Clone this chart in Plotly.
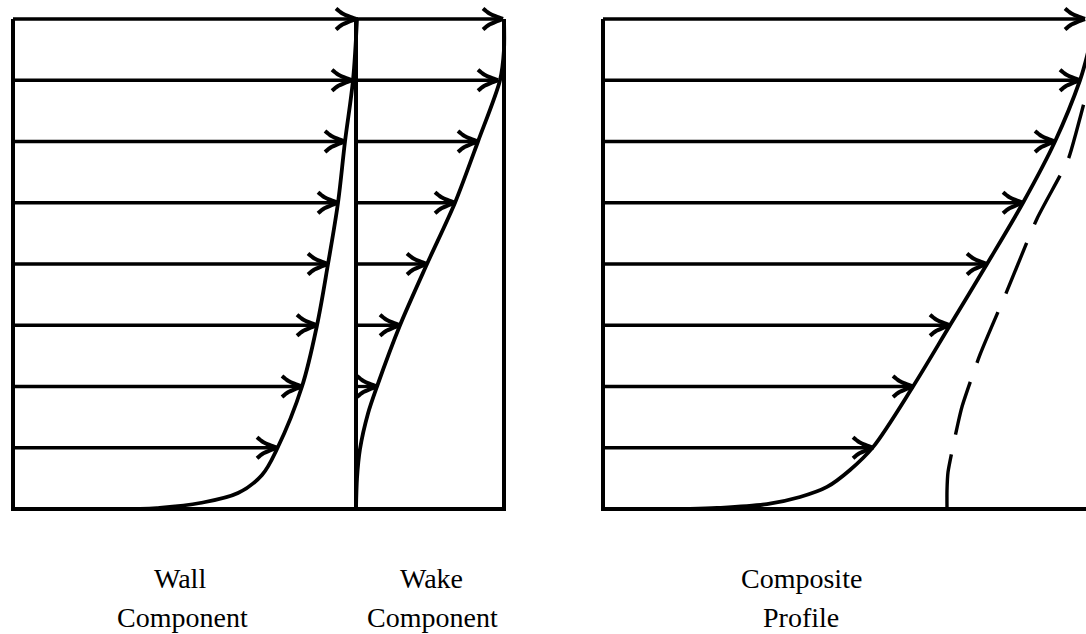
import plotly.graph_objects as go

# ---- data (x in drawing units, heights in profile levels 0..8) ----
levels = [1, 2, 3, 4, 5, 6, 7, 8]
wall_tips = [277, 302, 317, 328, 338, 345, 352, 356]
wake_levels = [2, 3, 4, 5, 6, 7, 8]
wake_tips = [377, 400, 427, 455, 478, 498, 503]
composite_tips = [873, 913, 950, 987, 1023, 1055, 1080, 1085]

wall_curve_level = [0, 0.016, 0.098, 0.26, 0.555, 0.98, 2, 3, 4, 5, 6, 7, 8]
wall_curve_x = [140, 157, 200, 238, 262, 277, 302, 317, 328, 338, 345, 353, 357]
wake_curve_level = [0, 0.5, 0.98, 1.56, 2, 3, 4, 5, 6, 7, 7.5, 8]
wake_curve_x = [356, 357, 360, 368, 377, 400, 427, 455, 478, 500, 504, 504]
comp_curve_level = [0, 0.016, 0.08, 0.196, 0.36, 0.637, 1.01, 2, 3, 4, 5, 6, 7, 7.33, 7.6]
comp_curve_x = [690, 717, 767, 800, 827, 850, 873, 913, 950, 987, 1023, 1055, 1080, 1086, 1090]
dash_level = [0, 0.3, 0.6, 1.4, 1.67, 2.52, 3.56, 4.74, 5.7, 6.14, 6.76, 7.2]
dash_x = [947, 947, 948, 958, 962, 980, 1007, 1037, 1068, 1076, 1086, 1092]

wall_x0, divider_x, wake_x1 = 13, 356, 504
comp_x0, comp_x1 = 603, 1090
top_level = 8

labels = [("Wall", 180, 578), ("Component", 182, 617),
          ("Wake", 431, 578), ("Component", 432, 617),
          ("Composite", 801, 578), ("Profile", 801, 617)]

# ---- geometry helpers ----
PX_PER_LEVEL = 61.25
BASE_PX = 509
W, H = 1086, 634
y_lo = (BASE_PX - H) / PX_PER_LEVEL
y_hi = BASE_PX / PX_PER_LEVEL

BLACK = "#000000"

fig = go.Figure()


def line(xs, ys, width=3.6, dash=None, shape="linear", smoothing=0.8):
    ln = dict(color=BLACK, width=width, dash=dash, shape=shape)
    if shape == "spline":
        ln["smoothing"] = smoothing
    fig.add_trace(go.Scatter(x=xs, y=ys, mode="lines", line=ln,
                             hoverinfo="skip", showlegend=False))


def arrow(x0, x1, lev):
    line([x0, x1], [lev, lev], width=3.3)
    # swept, slightly curved barbs
    offs = [(0, 0), (-7, 2.6), (-14, 5.8), (-20, 10.5)]
    for s in (1, -1):
        bx = [x1 + dx for dx, _ in offs]
        by = [lev + s * dy / PX_PER_LEVEL for _, dy in offs]
        line(bx, by, width=4.0, shape="spline")


# frames
line([wall_x0, wall_x0, wake_x1, wake_x1], [top_level, 0, 0, top_level], width=4)
line([divider_x, divider_x], [0, top_level + 0.03], width=4)
line([comp_x0, comp_x0, comp_x1], [top_level, 0, 0], width=4)

# wall component arrows
for lev, tip in zip(levels, wall_tips):
    arrow(wall_x0, tip, lev)
# wake component arrows
for lev, tip in zip(wake_levels, wake_tips):
    arrow(divider_x, tip, lev)
# composite arrows
for lev, tip in zip(levels, composite_tips):
    arrow(comp_x0, tip, lev)

# profiles
line(wall_curve_x, wall_curve_level, width=3.8, shape="spline", smoothing=1.0)
line(wake_curve_x, wake_curve_level, width=3.8, shape="spline", smoothing=0.8)
line(comp_curve_x, comp_curve_level, width=3.8, shape="spline", smoothing=0.9)
line(dash_x, dash_level, width=3.4, dash="55px,20px", shape="spline", smoothing=0.6)

for text, x, ypx in labels:
    fig.add_annotation(x=x, y=(BASE_PX - ypx) / PX_PER_LEVEL, xref="x", yref="y",
                       text=text, showarrow=False,
                       font=dict(family="Liberation Serif", size=28, color=BLACK))

fig.update_layout(width=W, height=H, margin=dict(l=0, r=0, t=0, b=0),
                  paper_bgcolor="white", plot_bgcolor="white",
                  xaxis=dict(range=[0, W], visible=False, fixedrange=True),
                  yaxis=dict(range=[y_lo, y_hi], visible=False, fixedrange=True))
fig.write_html("out.html", config={"displayModeBar": False},
               post_script="document.body.style.margin='0px';document.body.style.overflow='hidden';")
